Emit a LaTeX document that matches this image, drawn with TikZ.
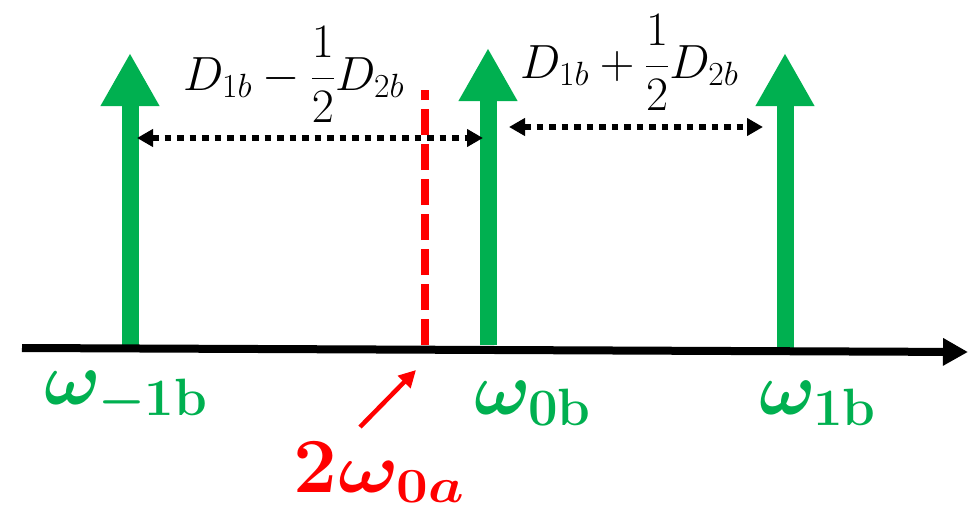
\RequirePackage{fix-cm}
\documentclass[tikz,border=0pt]{standalone}
\usepackage{amsmath}
\usepackage{bm}
\usepackage{graphicx}
\usetikzlibrary{arrows.meta}
\definecolor{specgreen}{RGB}{0,176,80}
\definecolor{specred}{RGB}{255,0,0}
\begin{document}
\begin{tikzpicture}[x=1pt,y=-1pt,
  spike/.style={specgreen, line width=17pt, -{Triangle[length=53pt,width=55pt]}},
  axisline/.style={black, line width=8pt, -{Triangle[length=25pt,width=26pt]}},
  dimarrow/.style={black, line width=5.5pt, dash pattern=on 6.5pt off 6pt,
    {Triangle[length=16pt,width=17pt]}-{Triangle[length=16pt,width=17pt]}},
  reddash/.style={specred, line width=8pt, dash pattern=on 26pt off 9pt},
  redarrow/.style={specred, line width=4.5pt, -{Triangle[length=17pt,width=17pt]}},
  dlabel/.style={anchor=base west, inner sep=0pt, font=\fontsize{48}{56}\selectfont},
  glabel/.style={anchor=base west, inner sep=0pt, text=specgreen, font=\fontsize{75}{90}\selectfont},
  rlabel/.style={anchor=base west, inner sep=0pt, text=specred}
]
\useasboundingbox (0,0) rectangle (980,511);
% coordinates
\coordinate (axL) at (22,348);
\coordinate (axR) at (968,352);
\coordinate (sA0) at (130,345); \coordinate (sA1) at (130,53);
\coordinate (sB0) at (488,345); \coordinate (sB1) at (488,48);
\coordinate (sC0) at (785,350); \coordinate (sC1) at (785,53);
\coordinate (rd0) at (425,345); \coordinate (rd1) at (425,90);
\coordinate (dL1) at (137,138); \coordinate (dL2) at (483,138);
\coordinate (dR1) at (509,127); \coordinate (dR2) at (763,127);
\coordinate (ra0) at (360,427); \coordinate (ra1) at (416,370);
% labels
\node[dlabel] (dminus) at (183,90) {$D_{1b}-\dfrac{1}{2}D_{2b}$};
\node[dlabel] (dplus) at (520,78) {$D_{1b}+\dfrac{1}{2}D_{2b}$};
\node[glabel] (wm1) at (44,404) {$\bm{\omega_{-\mathbf{1b}}}$};
\node[glabel] (w0) at (474,414) {$\bm{\omega_{\mathbf{0b}}}$};
\node[glabel] (w1) at (759,414) {$\bm{\omega_{\mathbf{1b}}}$};
\node[rlabel] (w2a) at (293,492) {{\fontsize{78}{90}\selectfont\bfseries 2}\,\scalebox{1.15}[1]{\fontsize{70}{84}\selectfont$\bm{\omega_{0a}}$}};
% spikes and axis
\draw[spike] (sA0) -- (sA1);
\draw[spike] (sB0) -- (sB1);
\draw[spike] (sC0) -- (sC1);
\draw[axisline] (axL) -- (axR);
% red marker
\draw[reddash] (rd0) -- (rd1);
\draw[redarrow] (ra0) -- (ra1);
% spacing arrows
\draw[dimarrow] (dL1) -- (dL2);
\draw[dimarrow] (dR1) -- (dR2);
\end{tikzpicture}
\end{document}
